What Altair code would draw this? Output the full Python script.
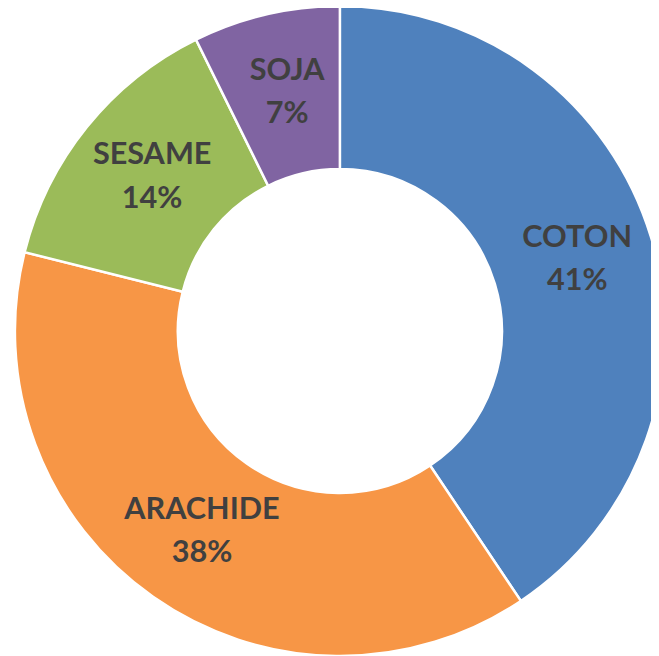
import altair as alt
import pandas as pd

categories = ["COTON", "ARACHIDE", "SESAME", "SOJA"]
values = [40.6, 38.3, 13.8, 7.3]
pct_labels = ["41%", "38%", "14%", "7%"]
colors = ["#4F81BD", "#F79646", "#9BBB59", "#8064A2"]

df = pd.DataFrame({
    "cat": categories,
    "val": values,
    "order": list(range(len(categories))),
})
df["label"] = [f"{c}\n{p}" for c, p in zip(categories, pct_labels)]

CX, CY = 336, 323
R_OUT, R_IN = 329, 164

base = alt.Chart(df).encode(
    theta=alt.Theta("val:Q", stack=True),
    order=alt.Order("order:Q"),
    x=alt.value(CX),
    y=alt.value(CY),
)

arcs = base.mark_arc(outerRadius=R_OUT, innerRadius=R_IN, stroke="white", strokeWidth=2.5).encode(
    color=alt.Color("cat:N", scale=alt.Scale(domain=categories, range=colors), legend=None),
)

labels = base.mark_text(
    radius=248, font="Lato", fontWeight="bold", fontSize=31, color="#404040",
    lineBreak="\n", lineHeight=44, align="center", baseline="middle", dy=-22, dx=3,
).encode(text="label:N")

chart = (arcs + labels).properties(
    width=651, height=648, padding=0,
    autosize=alt.AutoSizeParams(type="none"),
).configure_view(stroke=None)

chart.save("out.html", embed_options={"renderer": "svg", "actions": False})
